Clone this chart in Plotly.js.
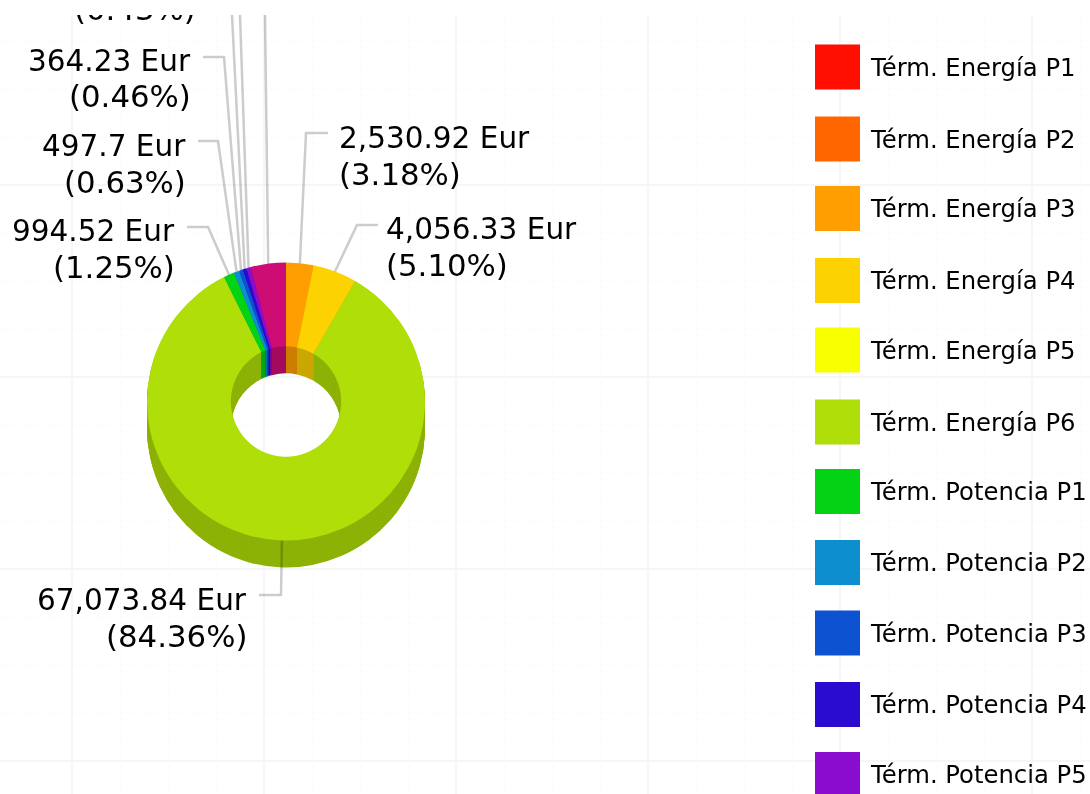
<!DOCTYPE html>
<html>
<head>
<meta charset="utf-8">
<script src="https://cdn.plot.ly/plotly-3.0.1.min.js"></script>
<style>
html,body{margin:0;padding:0;background:#fff;overflow:hidden;width:1090px;height:794px}
#chart{position:absolute;left:0;top:15px;width:1090px;height:779px;filter:blur(0.6px)}
</style>
</head>
<body>
<div id="chart"></div>
<script>
var categories = ["Térm. Energía P1","Térm. Energía P2","Térm. Energía P3","Térm. Energía P4","Térm. Energía P5","Térm. Energía P6",
  "Térm. Potencia P1","Térm. Potencia P2","Térm. Potencia P3","Térm. Potencia P4","Térm. Potencia P5","Térm. Potencia P6"];
var values = [0,0,2530.92,4056.33,0,67073.84,994.52,497.7,364.23,342,398,3252];
var colors = ["#FF0F00","#FF6600","#FF9E01","#FCD202","#F8FF01","#B0DE09","#04D215","#0D8ECF","#0D52D1","#2A0CD0","#8A0CCF","#CD0D74"];

// page-pixel layout constants
var PAGE_W = 1090, PAGE_H = 794, TOP = 15;
var CX = 286, CY = 401.5, R = 139, DEPTH = 27, HOLE = 0.397;
var legendY = [67,139,208.5,280.5,350,422,491.5,562.5,633,704.5,774.5,846];

// callout layout: slice index, text side/edge, line centres, leader elbow and stub end
var callouts = [
  {i:2,  anchor:"left",  x:338, y1:138, y2:174, ex:306, ey:133, sx:328},
  {i:3,  anchor:"left",  x:385, y1:229, y2:265, ex:357, ey:225, sx:378},
  {i:5,  anchor:"right", x:248, y1:600, y2:636, ex:281, ey:595, sx:259},
  {i:6,  anchor:"right", x:176, y1:231, y2:267, ex:208, ey:227, sx:187},
  {i:7,  anchor:"right", x:187, y1:146, y2:182, ex:218, ey:141, sx:198},
  {i:8,  anchor:"right", x:192, y1:61,  y2:96,  ex:224, ey:57,  sx:203},
  {i:9,  anchor:"right", x:197, y1:-27, y2:9,   ex:232, ey:15,  sx:null},
  {i:10, anchor:"right", x:0,   y1:null,y2:null,ex:240, ey:15,  sx:null},
  {i:11, anchor:"right", x:0,   y1:null,y2:null,ex:265, ey:15,  sx:null}
];

var total = values.reduce(function(a,b){return a+b;},0);
function darken(hex){
  var n = parseInt(hex.slice(1),16);
  return "rgb("+[(n>>16)&255,(n>>8)&255,n&255].map(function(c){return Math.round(c*0.8);}).join(",")+")";
}
var darkColors = colors.map(darken);
function yFrac(py){ return 1-(py-TOP)/(PAGE_H-TOP); }

var traces = [];
for (var k = DEPTH; k >= 0; k--) {
  traces.push({
    type:"pie", labels:categories, values:values, sort:false, direction:"clockwise", rotation:0,
    hole:HOLE, textinfo:"none", hoverinfo:"skip", showlegend:false,
    marker:{colors:k===0?colors:darkColors, line:{width:0}},
    domain:{x:[(CX-R)/PAGE_W,(CX+R)/PAGE_W], y:[yFrac(CY+k+R),yFrac(CY+k-R)]}
  });
}
// legend
traces.push({
  type:"scatter", mode:"markers", x:categories.map(function(){return 837.5;}), y:legendY,
  marker:{symbol:"square", size:45, color:colors, line:{width:0}}, hoverinfo:"skip", showlegend:false, cliponaxis:true
});

var annotations = [], shapes = [];
categories.forEach(function(c,i){
  if (legendY[i] > PAGE_H) return;
  annotations.push({xref:"x",yref:"y",x:869,y:legendY[i],text:c,showarrow:false,xanchor:"left",yanchor:"middle",
    borderpad:0,font:{family:"DejaVu Sans",size:24.3,color:"#000"}});
});
var cum = [], run = 0;
values.forEach(function(v){ cum.push(run+v/2); run += v; });
callouts.forEach(function(c){
  var a = cum[c.i]/total*2*Math.PI;
  var px = CX+R*Math.sin(a), py = CY-R*Math.cos(a);
  var path = (c.sx===null?"M ":"M "+c.sx+","+c.ey+" L ")+c.ex+","+c.ey+" L "+px+","+py;
  shapes.push({type:"path",xref:"x",yref:"y",path:path,line:{color:"rgba(0,0,0,0.2)",width:2.5},layer:"above"});
  if (c.y2===null) return;
  var v = values[c.i];
  var t1 = v.toLocaleString("en-US",{maximumFractionDigits:2})+" Eur";
  var t2 = "("+(v/total*100).toFixed(2)+"%)";
  var f1 = {family:"DejaVu Sans",size:29.5,color:"#000"};
  var f2 = {family:"DejaVu Sans",size:30.8,color:"#000"};
  if (c.y1 > TOP) annotations.push({xref:"x",yref:"y",x:c.x,y:c.y1,text:t1,showarrow:false,xanchor:c.anchor,yanchor:"middle",borderpad:0,font:f1});
  if (c.y2 > TOP) annotations.push({xref:"x",yref:"y",x:c.x,y:c.y2,text:t2,showarrow:false,xanchor:c.anchor,yanchor:"middle",borderpad:0,font:f2});
  else annotations.push({xref:"x",yref:"y",x:c.x,y:c.y2+19,text:t2,showarrow:false,xanchor:c.anchor,yanchor:"bottom",borderpad:0,font:f2});
});

function px48(start,end){ var o=[]; for(var v=start;v<end;v+=48){ if((v-start)%192!==0) o.push(v);} return o; }
var layout = {
  width:PAGE_W, height:PAGE_H-TOP, margin:{l:0,r:0,t:0,b:0,pad:0},
  paper_bgcolor:"#fff", plot_bgcolor:"#fff", showlegend:false,
  xaxis:{range:[0,PAGE_W],domain:[0,1],fixedrange:true,showticklabels:false,ticks:"",zeroline:false,showline:false,
    tickmode:"array",tickvals:[72,264,456,648,840,1032],showgrid:true,gridcolor:"#f6f6f6",gridwidth:2,
    minor:{tickmode:"array",tickvals:px48(72,1090),showgrid:true,gridcolor:"#f9f9f9",griddash:"dot",gridwidth:1,ticks:""}},
  yaxis:{range:[PAGE_H,TOP],domain:[0,1],fixedrange:true,showticklabels:false,ticks:"",zeroline:false,showline:false,
    tickmode:"array",tickvals:[185,377,569,761],showgrid:true,gridcolor:"#f6f6f6",gridwidth:2,
    minor:{tickmode:"array",tickvals:px48(185,794).concat([41,89,137]),showgrid:true,gridcolor:"#f9f9f9",griddash:"dot",gridwidth:1,ticks:""}},
  annotations:annotations, shapes:shapes
};
Plotly.newPlot("chart",traces,layout,{displayModeBar:false,staticPlot:true});
</script>
</body>
</html>
